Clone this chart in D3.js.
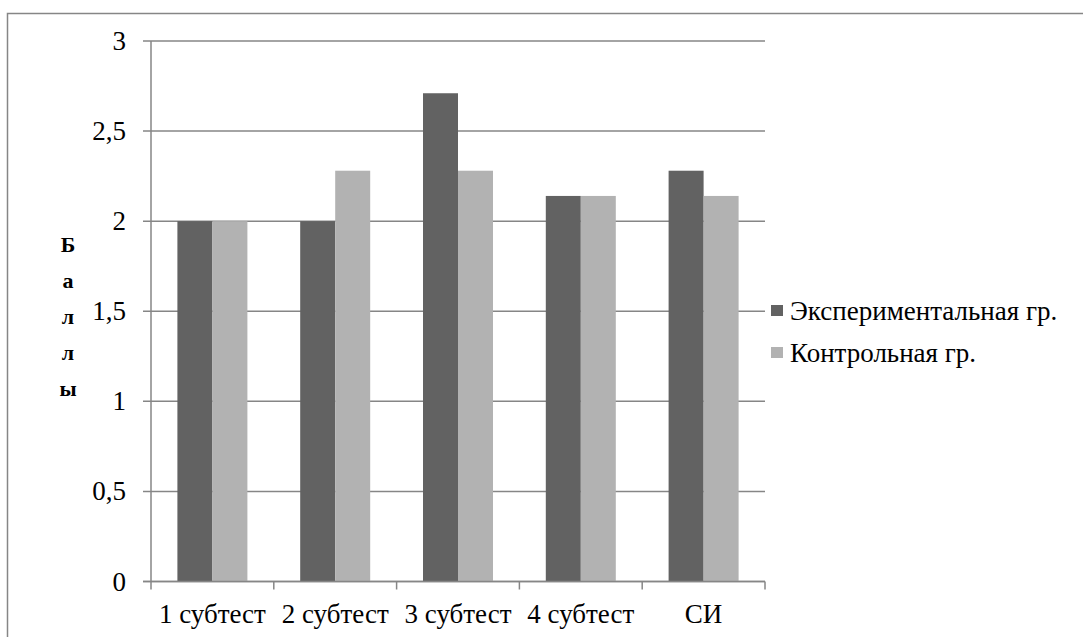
<!DOCTYPE html>
<html><head><meta charset="utf-8">
<script src="https://cdn.jsdelivr.net/npm/d3@7"></script>
<style>body{margin:0;background:#fff}svg{display:block}</style>
</head><body>
<script>
const categories = ["1 субтест","2 субтест","3 субтест","4 субтест","СИ"];
const seriesNames = ["Экспериментальная гр.","Контрольная гр."];
const experimental = [2, 2, 2.71, 2.14, 2.28];
const control = [2, 2.28, 2.28, 2.14, 2.14];
const yTicks = [0,0.5,1,1.5,2,2.5,3];
const yTickLabels = ["0","0,5","1","1,5","2","2,5","3"];
const colors = ["#626262","#b2b2b2"];
const yTitle = "Баллы";

(function(){
const FONT="Liberation Serif, Times New Roman, serif";
const W=1083,H=637;
const svg=d3.select("body").append("svg").attr("width",W).attr("height",H)
  .attr("font-family",FONT);
svg.append("rect").attr("x",7.5).attr("y",13.5).attr("width",1080).attr("height",640)
  .attr("fill","none").attr("stroke","#868686").attr("stroke-width",1.5);

const pL=151,pR=765,pT=41,pB=581.5;
const x=d3.scaleBand().domain(categories).range([pL,pR]).paddingInner(0).paddingOuter(0);
const y=d3.scaleLinear().domain([0,3]).range([pB,pT]);
const x1=d3.scaleBand().domain([0,1]).range([0,x.bandwidth()]).paddingInner(0).paddingOuter(0.5*(x.bandwidth()-70)/35);

svg.append("g").selectAll("line").data(yTicks).join("line")
  .attr("x1",pL-8).attr("x2",pR).attr("y1",d=>y(d)).attr("y2",d=>y(d))
  .attr("stroke","#868686").attr("stroke-width",1.5);

const data=categories.map((c,i)=>({c,v:[experimental[i],control[i]]}));
const g=svg.append("g").selectAll("g").data(data).join("g").attr("transform",d=>`translate(${x(d.c)},0)`);
g.selectAll("rect").data(d=>d.v.map((v,k)=>({v,k}))).join("rect")
  .attr("x",d=>x1(d.k)).attr("width",x1.bandwidth())
  .attr("y",d=>y(d.v)).attr("height",d=>y(0)-y(d.v))
  .attr("fill",d=>colors[d.k]);

svg.append("line").attr("x1",pL).attr("x2",pL).attr("y1",pT).attr("y2",pB)
  .attr("stroke","#868686").attr("stroke-width",1.5);
svg.append("line").attr("x1",pL-8).attr("x2",pR).attr("y1",pB).attr("y2",pB)
  .attr("stroke","#868686").attr("stroke-width",1.5);
const xt=categories.map(c=>x(c)).concat([pR]);
svg.append("g").selectAll("line").data(xt).join("line")
  .attr("x1",d=>d).attr("x2",d=>d).attr("y1",pB).attr("y2",pB+8)
  .attr("stroke","#868686").attr("stroke-width",1.5);

svg.append("g").selectAll("text").data(yTicks).join("text")
  .attr("x",126).attr("y",d=>y(d)+9).attr("text-anchor","end")
  .attr("font-family",FONT).attr("font-size",27).attr("fill","#000").text((d,i)=>yTickLabels[i]);

svg.append("g").selectAll("text").data(categories).join("text")
  .attr("x",d=>x(d)+x.bandwidth()/2).attr("y",623).attr("text-anchor","middle")
  .attr("font-family",FONT).attr("font-size",27).attr("fill","#000").text(d=>d);

svg.append("g").selectAll("text").data(Array.from(yTitle)).join("text")
  .attr("x",68).attr("y",(d,i)=>252+i*36).attr("text-anchor","middle")
  .attr("font-family",FONT).attr("font-size",22).attr("font-weight","bold").attr("fill","#000").text(d=>d);

const lg=svg.append("g").selectAll("g").data(seriesNames).join("g")
  .attr("transform",(d,i)=>`translate(771,${305+i*42})`);
lg.append("rect").attr("width",12).attr("height",11).attr("fill",(d,i)=>colors[i]);
lg.append("text").attr("x",19).attr("y",15).attr("font-family",FONT).attr("font-size",27).attr("fill","#000").text(d=>d);
})();
</script>
</body></html>
